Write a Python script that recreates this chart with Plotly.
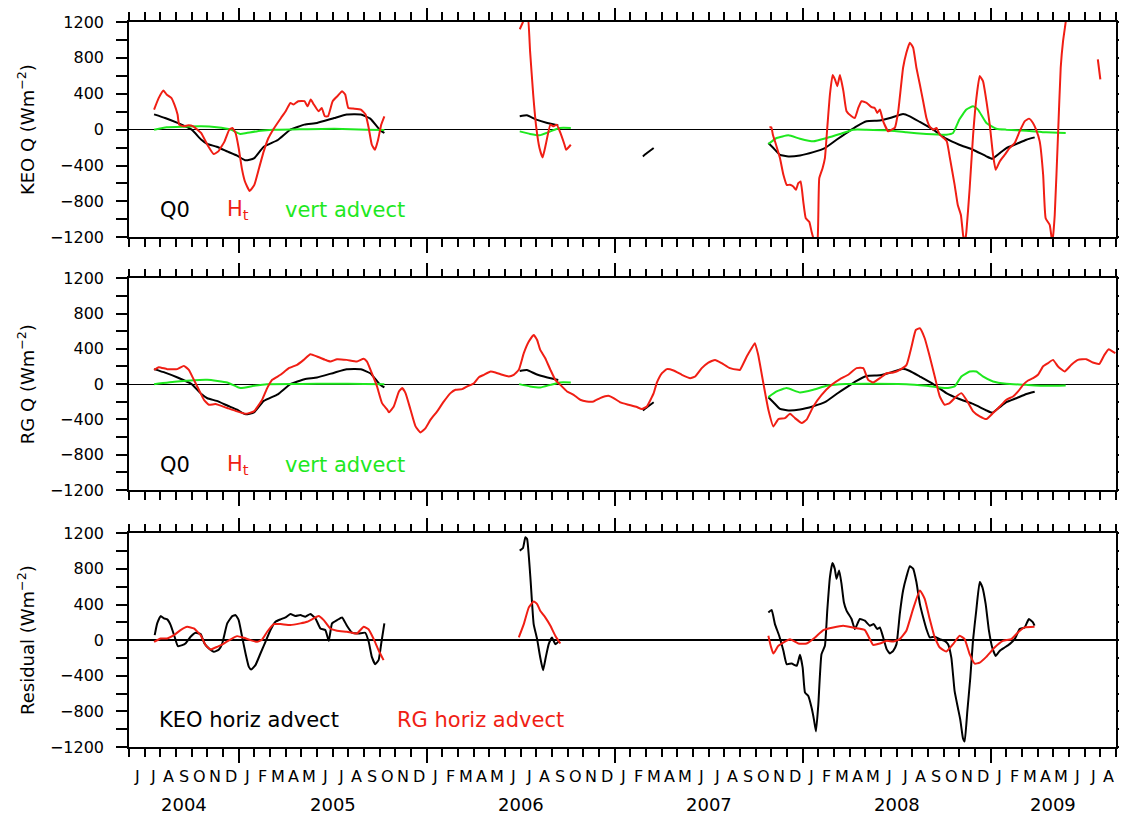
import plotly.graph_objects as go

# ---------------- axis labels ----------------
month_letters = ["J", "J", "A", "S", "O", "N", "D"] + \
    ["J", "F", "M", "A", "M", "J", "J", "A", "S", "O", "N", "D"] * 4 + \
    ["J", "F", "M", "A", "M", "J", "J", "A"]
year_labels = ["2004", "2005", "2006", "2007", "2008", "2009"]
year_centers = [3.5, 13, 25, 37, 49, 59]          # months since 1 Jun 2004
jan_ticks = [7, 19, 31, 43, 55]
y_ticks = [-1200, -800, -400, 0, 400, 800, 1200]

# ---------------- data (x = months since 1 Jun 2004) ----------------
# Q0 (same in panels 1 and 2)
q0_m = [1.6, 2.3, 3.1, 4.0, 4.6, 5.0, 5.6, 6.3, 6.9, 7.4, 7.7, 8.0, 8.6, 9.5, 10.3, 11.2, 12.0, 13.1, 13.9, 14.8, 15.4, 16.0, 16.3,
        None,
        24.94, 25.4, 26.0, 26.7, 27.4,
        None,
        32.8, 33.06, 33.49,
        None,
        40.81, 41.13, 41.55, 42.09, 42.83, 43.68, 44.42, 45.16, 45.8, 46.44, 47.08, 47.93, 48.57, 49.41, 49.84,
        50.48, 51.33, 52.17, 53.0, 53.88, 54.73, 55.1, 55.58, 56.0, 56.64, 57.28, 57.81]
q0_v = [170, 130, 75, 0, -110, -160, -190, -245, -290, -340, -335, -317, -190, -115, 0, 56, 75, 130, 168, 168, 123, 0, -37,
        None,
        149, 160, 112, 75, 48,
        None,
        -298, -261, -205,
        None,
        -149, -205, -280, -298, -287, -250, -205, -112, -37, 37, 93, 101, 130, 175, 149,
        86, 0, -101, -168, -224, -298, -324, -261, -205, -160, -112, -86]

# KEO H_t
keo_ht_m = [1.6, 1.9, 2.2, 2.4, 2.7, 2.9, 3.1, 3.2, 3.5, 3.8, 4.1, 4.6, 5.0, 5.4, 5.7, 6.1, 6.4, 6.6, 6.8, 7.0, 7.2, 7.4,
            7.7, 8.0, 8.3, 8.6, 8.9, 9.2, 9.7, 10.0, 10.3, 10.5, 10.8, 11.2, 11.4, 11.6, 11.8, 12.1, 12.3, 12.5, 12.7,
            13.0, 13.3, 13.6, 13.8, 14.0, 14.3, 14.8, 15.1, 15.3, 15.5, 15.7, 15.9, 16.1, 16.3,
            None,
            24.94, 25.1, 25.3, 25.45, 25.6, 25.8, 26.0, 26.2, 26.4, 26.6, 26.9, 27.1, 27.3, 27.5, 27.8, 27.9, 28.2,
            None,
            40.88, 41.0, 41.1, 41.3, 41.55, 41.77, 41.98, 42.19, 42.4, 42.57, 42.72, 42.87, 43.04, 43.2, 43.42, 43.57,
            43.72, 43.85, 43.95, 44.06, 44.27, 44.42, 44.57, 44.74, 44.91, 45.06, 45.21, 45.38, 45.6, 45.8, 46.12,
            46.33, 46.55, 46.76, 47.08, 47.4, 47.6, 47.76, 47.93, 48.14, 48.46, 48.67, 48.88, 49.1, 49.41, 49.62,
            49.84, 50.05, 50.26, 50.48, 50.69, 50.9, 51.1, 51.33, 51.54, 51.75, 52.0, 52.2, 52.4, 52.7, 52.9, 53.1,
            53.24, 53.35, 53.45, 53.66, 53.88, 54.09, 54.3, 54.51, 54.73, 54.94, 55.15, 55.32, 55.58, 55.9, 56.2,
            56.53, 56.85, 57.17, 57.45, 57.7, 57.9, 58.13, 58.35, 58.51, 58.77, 58.94, 59.09, 59.3, 59.47, 59.62,
            59.79, 59.86,
            None,
            61.84, 62.0]
keo_ht_v = [224, 354, 436, 392, 354, 280, 168, 56, 37, 48, 37, -37, -168, -272, -242, -130, 0, 19, -37, -205, -429, -578,
            -683, -615, -429, -242, -93, 0, 130, 205, 298, 280, 317, 317, 261, 336, 280, 205, 242, 149, 149,
            317, 373, 429, 392, 242, 235, 224, 168, 19, -168, -224, -112, 56, 149,
            None,
            1119, 1180, 1260, 1260, 876, 392, 19, -205, -310, -168, 56, 37, 56, -19, -168, -224, -168,
            None,
            26, 26, -56, -168, -317, -503, -615, -615, -634, -671, -597, -578, -802, -988, -1026, -1138,
            -1230, -1260, -1230, -541, -429, -317, 19, 392, 608, 560, 485, 608, 429, 205, 149,
            130, 242, 317, 298, 250, 242, 186, 224, 93, -19, 0, 19, 205, 690, 858,
            970, 914, 690, 504, 317, 130, 37, 0, 19, -56, -93, -130, -317, -615, -839, -951,
            -1175, -1260, -1138, -653, -56, 354, 597, 541, 317, 56, -280, -448, -354, -280, -205,
            -149, -19, 93, 123, 75, 0, -130, -503, -988, -1063, -1260, -951, -56, 690, 988,
            1200, 1300,
            None,
            783, 560]

# KEO vertical advection
keo_va_m = [1.6, 2.4, 3.5, 4.6, 5.6, 6.5, 7.1, 7.5, 8.4, 9.2, 10.9, 13.1, 15.2, 16.3,
            None,
            24.94, 25.6, 26.2, 26.9, 27.5, 28.2,
            None,
            40.81, 41.34, 42.09, 42.83, 43.68, 44.53, 45.38, 46.23, 47.08, 48.36, 49.62, 50.9, 52.17, 52.6, 53.0,
            53.45, 53.88, 54.19, 54.73, 55.36, 56.0, 57.28, 58.55, 59.79]
keo_va_v = [0, 26, 33, 37, 26, 0, -48, -37, -11, 0, 4, 11, 0, -4,
            None,
            -19, -48, -63, -19, 19, 19,
            None,
            -160, -93, -63, -101, -130, -93, -48, 0, 0, -7, -30, -48, -56, -37, 112,
            224, 261, 224, 75, 11, 0, -11, -30, -37]

# RG H_t
rg_ht_m = [1.6, 1.9, 2.44, 3.08, 3.5, 3.82, 4.14, 4.46, 4.78, 5.1, 5.52, 6.27, 6.9, 7.44, 7.97, 8.5, 8.82, 9.14, 9.67,
           10.2, 10.73, 11.15, 11.58, 12.0, 12.53, 12.85, 13.28, 13.9, 14.55, 14.98, 15.19, 15.5, 15.83, 16.15,
           16.49, 16.59, 16.9, 17.23, 17.44, 17.65, 17.97, 18.29, 18.61, 18.93, 19.25, 19.67, 20.1, 20.52, 20.84,
           21.27, 21.59, 22.02, 22.33, 22.65, 23.08, 23.39, 23.82, 24.24, 24.56, 24.88, 25.2, 25.52, 25.83, 26.05,
           26.25, 26.57, 26.9, 27.21, 27.53, 27.96, 28.38, 28.8, 29.22, 29.65, 30.07, 30.6, 30.93, 31.36, 31.89,
           32.42, 32.73, 33.06, 33.49, 33.7, 34.02, 34.33, 34.76, 35.29, 35.82, 36.14, 36.56, 36.98, 37.41, 37.83,
           38.36, 38.89, 39.0, 39.43, 39.74, 39.95, 40.16, 40.49, 40.81, 41.13, 41.45, 41.87, 42.19, 42.51, 42.94,
           43.25, 43.68, 44.21, 44.85, 45.38, 45.91, 46.44, 46.87, 47.18, 47.5, 47.93, 48.36, 48.78, 49.2, 49.63,
           49.95, 50.22, 50.48, 50.79, 51.11, 51.43, 51.75, 52.06, 52.38, 52.81, 53.13, 53.45, 53.88, 54.3, 54.73,
           55.15, 55.58, 56.0, 56.43, 56.75, 57.07, 57.39, 57.71, 58.02, 58.34, 58.66, 58.98, 59.3, 59.72, 60.15,
           60.57, 61.1, 61.52, 61.94, 62.26, 62.54, 62.79, 62.96]
rg_ht_v = [162, 192, 170, 170, 207, 162, 49, -64, -177, -234, -226, -271, -309, -336, -309, -177, -45, 49, 106,
           181, 219, 275, 339, 313, 275, 256, 283, 275, 256, 287, 256, 124, -26, -215,
           -290, -320, -253, -83, -45, -102, -290, -479, -547, -498, -403, -309, -196, -102, -64,
           -57, -26, 11, 79, 106, 143, 132, 106, 87, 106, 162, 351, 483, 558, 501,
           388, 294, 162, 49, -8, -83, -121, -177, -196, -196, -158, -132, -158, -207, -234,
           -260, -283, -253, -102, 19, 124, 170, 155, 106, 68, 87, 181, 245, 275, 238,
           181, 162, 162, 313, 407, 464, 332, 11, -290, -479, -396, -385, -336, -385, -441,
           -403, -253, -121, -8, 57, 106, 181, 181, 49, 19, 68, 124, 132, 162, 219,
           426, 614, 633, 520, 313, 87, -140, -234, -215, -140, -102, -177, -309, -366, -396,
           -328, -253, -177, -140, -83, -8, 41, 68, 106, 200, 238, 275, 200, 143, 219,
           275, 283, 245, 230, 332, 396, 369, 351]

# RG vertical advection
rg_va_m = [1.6, 3.08, 5.0, 6.27, 7.1, 7.97, 8.8, 11.0, 13.0, 15.0, 16.3,
           None,
           24.9, 25.6, 26.25, 26.9, 27.5, 28.2,
           None,
           40.81, 41.34, 41.98, 42.83, 43.68, 44.53, 45.38, 47.08, 49.62, 50.9, 52.17, 52.7, 53.13, 53.66, 54.09,
           54.5, 55.15, 56.0, 57.28, 58.55, 59.79]
rg_va_v = [0, 30, 49, 19, -45, -19, 0, 2, 4, 2, 0,
           None,
           0, -26, -38, -8, 19, 19,
           None,
           -147, -83, -45, -94, -64, -19, 0, 4, 0, -19, -45, -26, 87, 143, 143,
           87, 30, 4, -8, -19, -15]

# Residual: KEO horizontal advection
keo_res_m = [1.64, 1.8, 2.02, 2.23, 2.44, 2.66, 2.91, 3.12, 3.4, 3.6, 3.93, 4.25, 4.57, 4.82, 5.1, 5.42, 5.74, 5.95,
             6.27, 6.59, 6.8, 7.0, 7.22, 7.44, 7.65, 7.8, 8.07, 8.39, 8.71, 9.03, 9.35, 9.67, 9.99, 10.3, 10.62,
             10.94, 11.26, 11.58, 11.9, 12.22, 12.53, 12.75, 12.96, 13.28, 13.6, 13.92, 14.23, 14.66, 15.08, 15.3,
             15.5, 15.72, 15.93, 16.1, 16.3,
             None,
             24.94, 25.15, 25.3, 25.41, 25.62, 25.83, 26.05, 26.25, 26.43, 26.6, 26.79, 27.0, 27.21, 27.43,
             None,
             40.81, 41.02, 41.23, 41.5, 41.77, 41.98, 42.3, 42.62, 42.83, 43.0, 43.15, 43.36, 43.57, 43.72, 43.85,
             44.0, 44.2, 44.42, 44.57, 44.74, 44.9, 45.05, 45.16, 45.33, 45.48, 45.63, 45.8, 46.12, 46.33, 46.65,
             46.97, 47.29, 47.54, 47.76, 47.93, 48.14, 48.36, 48.57, 48.78, 48.99, 49.2, 49.41, 49.62, 49.84, 50.05,
             50.26, 50.48, 50.69, 50.9, 51.11, 51.43, 51.75, 52.06, 52.28, 52.49, 52.7, 52.91, 53.06, 53.23, 53.34,
             53.51, 53.7, 53.87, 54.08, 54.3, 54.47, 54.68, 54.89, 55.1, 55.32, 55.57, 55.89, 56.21, 56.53, 56.85,
             57.17, 57.44, 57.7, 57.8]
keo_res_v = [56, 188, 270, 244, 233, 169, 38, -68, -56, -38, 38, 83, 68, -38, -94, -131, -105, -38,
             188, 270, 281, 225, 38, -150, -300, -330, -281, -150, -19, 113, 206, 233, 255, 293, 270,
             281, 263, 293, 244, 131, 113, -8, 188, 225, 255, 158, 83, 75, 83, -19,
             -188, -270, -225, -38, 188,
             None,
             1005, 1035, 1155, 1136, 705, 180, 11, -195, -338, -195, -45, 30, -45, -15,
             None,
             311, 338, 180, 49, -120, -270, -263, -289, -165, -308, -590, -628, -760, -892, -1025,
             -723, -158, -64, 331, 707, 866, 802, 689, 783, 632, 425, 331, 237, 124, 237,
             218, 162, 180, 124, 143, 30, -101, -150, -120, -45, 294, 558, 709, 829, 803,
             652, 407, 256, 124, 30, 38, 11, -8, -45, -196, -573, -762, -893, -1101, -1139,
             -799, -422, -8, 332, 652, 596, 407, 106, -83, -177, -121, -83, -45, 11, 124,
             143, 237, 200, 162]

# Residual: RG horizontal advection
rg_res_m = [1.6, 2.02, 2.44, 2.87, 3.29, 3.72, 4.14, 4.57, 4.89, 5.2, 5.63, 6.05, 6.48, 6.9, 7.33, 7.75, 8.18, 8.5,
            8.82, 9.24, 9.67, 10.3, 10.94, 11.37, 11.79, 12.1, 12.43, 12.85, 13.28, 13.92, 14.55, 14.98, 15.3, 15.6,
            15.93, 16.25,
            None,
            24.88, 25.2, 25.52, 25.83, 26.05, 26.25, 26.57, 26.9, 27.21, 27.53,
            None,
            40.81, 40.96, 41.13, 41.45, 42.19, 42.72, 43.25, 43.79, 44.32, 44.95, 45.59, 46.33, 46.97, 47.5, 47.93,
            48.36, 48.78, 49.2, 49.62, 50.05, 50.48, 50.79, 51.11, 51.43, 51.75, 52.17, 52.6, 53.02, 53.34, 53.66,
            53.98, 54.3, 54.72, 55.25, 55.78, 56.32, 56.74, 57.17, 57.8]
rg_res_v = [-19, 19, 19, 56, 113, 150, 131, 56, -56, -105, -75, -38, 8, 45, 26, 0, -19, 8,
            94, 180, 180, 169, 188, 206, 244, 270, 225, 131, 105, 94, 75, 150, 120, 19,
            -113, -225,
            None,
            30, 180, 368, 435, 405, 330, 255, 161, 49, -38,
            None,
            49, -64, -151, -64, 11, -38, -38, 30, 113, 143, 162, 136, 113, -53, -38,
            -8, -15, 11, 106, 351, 558, 464, 237, 30, -83, -128, -45, 49, 11, -158,
            -264, -253, -188, -83, -8, 11, 87, 143, 151]

# ---------------- styling ----------------
BLACK = "#000000"
RED = "rgb(240,30,20)"
GREEN = "rgb(30,232,30)"
FONT = "DejaVu Sans"
LW = 2.0

fig = go.Figure()


def add(xs, ys, color, ax):
    fig.add_trace(go.Scatter(x=xs, y=ys, mode="lines",
                             line=dict(color=color, width=LW, shape="spline", smoothing=0.4),
                             connectgaps=False, showlegend=False, hoverinfo="skip",
                             xaxis="x" + ax, yaxis="y" + ax))


# panel 1 (KEO)
add(q0_m, q0_v, BLACK, "")
add(keo_va_m, keo_va_v, GREEN, "")
add(keo_ht_m, keo_ht_v, RED, "")
# panel 2 (RG)
add(q0_m, q0_v, BLACK, "2")
add(rg_va_m, rg_va_v, GREEN, "2")
add(rg_ht_m, rg_ht_v, RED, "2")
# panel 3 (residual)
add(keo_res_m, keo_res_v, BLACK, "3")
add(rg_res_m, rg_res_v, RED, "3")

domains = [[0.703, 1.0], [0.3545, 0.6465], [0.0, 0.2948]]
titles = ["KEO Q (Wm<sup>−2</sup>)", "RG Q (Wm<sup>−2</sup>)", "Residual (Wm<sup>−2</sup>)"]
zero_widths = [1.2, 1.2, 2.2]

# the page body adds an 8 px margin on the left and top, so the figure is
# made 8 px smaller and its margins shifted to keep the plot where it belongs
layout = dict(
    width=1119, height=807,
    margin=dict(l=121, r=11, t=14, b=68, autoexpand=False),
    paper_bgcolor="white", plot_bgcolor="white",
    font=dict(family=FONT, color="black", size=16),
)

for i, (dom, title, zw) in enumerate(zip(domains, titles, zero_widths)):
    sfx = "" if i == 0 else str(i + 1)
    layout["xaxis" + sfx] = dict(
        domain=[0, 1], anchor="y" + sfx, range=[0, 63], automargin=False,
        showgrid=False, zeroline=False,
        showline=True, linecolor="black", linewidth=1.5, mirror="ticks",
        tickmode="array", tickvals=jan_ticks, ticks="outside", ticklen=14, tickwidth=1.5,
        tickcolor="black", showticklabels=False,
        minor=dict(tickmode="array", tickvals=list(range(0, 64)), ticks="outside",
                   ticklen=8, tickwidth=1.5, tickcolor="black", showgrid=False),
    )
    layout["yaxis" + sfx] = dict(
        domain=dom, anchor="x" + sfx, range=[-1200, 1200], automargin=False,
        showgrid=False,
        zeroline=True, zerolinecolor="black", zerolinewidth=zw,
        showline=True, linecolor="black", linewidth=1.5, mirror="ticks",
        tickmode="array", tickvals=y_ticks, ticks="outside", ticklen=11, tickwidth=1.5,
        tickcolor="black", tickfont=dict(family=FONT, size=16), ticklabelstandoff=9,
        minor=dict(dtick=200, ticks="outside", ticklen=11, tickwidth=1.5, tickcolor="black",
                   showgrid=False),
        title=dict(text=title, font=dict(family=FONT, size=18), standoff=11),
    )

fig.update_layout(**layout)

ann = []
# month letters and years under the bottom panel
for k, letter in enumerate(month_letters):
    ann.append(dict(x=k + 0.5, y=-0.041, xref="x3", yref="paper", text=letter, showarrow=False,
                    font=dict(family=FONT, size=16), xanchor="center", yanchor="middle"))
for yr, pos in zip(year_labels, year_centers):
    ann.append(dict(x=pos, y=-0.079, xref="x3", yref="paper", text=yr, showarrow=False,
                    font=dict(family=FONT, size=18), xanchor="center", yanchor="middle"))

# in-panel legends
legend_items = [
    ("", 0.029, 0.126, "Q0", BLACK),
    ("", 0.097, 0.126, "H<sub>t</sub>", RED),
    ("", 0.156, 0.126, "vert advect", GREEN),
    ("2", 0.029, 0.118, "Q0", BLACK),
    ("2", 0.097, 0.118, "H<sub>t</sub>", RED),
    ("2", 0.156, 0.118, "vert advect", GREEN),
    ("3", 0.028, 0.126, "KEO horiz advect", BLACK),
    ("3", 0.270, 0.126, "RG horiz advect", RED),
]
for sfx, xx, yy, txt, col in legend_items:
    ann.append(dict(x=xx, y=yy, xref="x" + sfx + " domain", yref="y" + sfx + " domain", text=txt,
                    showarrow=False, font=dict(family=FONT, size=21, color=col),
                    xanchor="left", yanchor="middle"))

fig.update_layout(annotations=ann)
fig.write_html("out.html")
